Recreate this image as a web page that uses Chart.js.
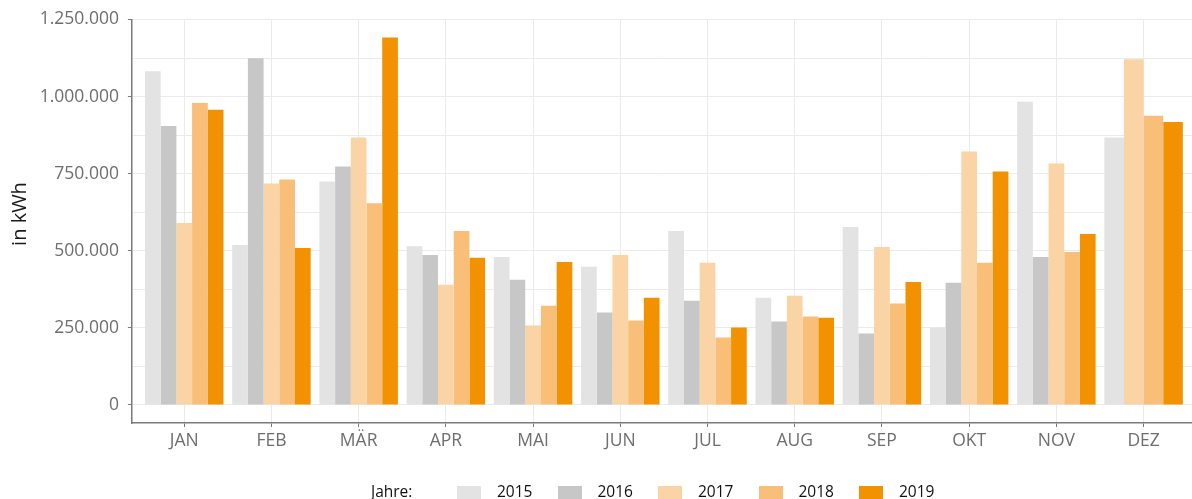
<!DOCTYPE html>
<html>
<head>
<meta charset="utf-8">
<script src="https://cdn.jsdelivr.net/npm/chart.js@4/dist/chart.umd.min.js"></script>
<style>
  html, body { margin: 0; padding: 0; background: #fff; overflow: hidden; }
  #wrap { position: relative; width: 1192px; height: 499px; }
  canvas { position: absolute; left: 0; top: 0; }
  #ytitle { position: absolute; left: 18px; top: 214px; transform: translate(-50%, -50%) rotate(-90deg);
            font-family: "Open Sans", sans-serif; font-size: 20px; color: #1a1a1a; white-space: nowrap; }
  #legend { position: absolute; left: 0; top: 0; width: 1192px; height: 499px; pointer-events: none;
            font-family: "Open Sans", sans-serif; font-size: 15.5px; font-weight: 500; color: #111; }
  #legend span { position: absolute; white-space: nowrap; line-height: 1; }
  #legend i { position: absolute; width: 24px; height: 24px; }
</style>
</head>
<body>
<div id="wrap">
  <canvas id="c" width="1192" height="499"></canvas>
  <div id="ytitle">in kWh</div>
  <div id="legend"></div>
</div>
<script>
const months = ['JAN','FEB','MÄR','APR','MAI','JUN','JUL','AUG','SEP','OKT','NOV','DEZ'];
const years = ['2015','2016','2017','2018','2019'];
const v2015 = [1082000, 519000, 725000, 515000, 480000, 448000, 564000, 348000, 577000, 251000, 983000, 867000];
const v2016 = [905000, 1124000, 773000, 486000, 406000, 300000, 338000, 271000, 232000, 396000, 480000, null];
const v2017 = [590000, 718000, 867000, 390000, 258000, 486000, 461000, 354000, 512000, 822000, 783000, 1121000];
const v2018 = [979000, 731000, 654000, 564000, 322000, 274000, 219000, 287000, 329000, 461000, 496000, 938000];
const v2019 = [957000, 509000, 1192000, 477000, 464000, 348000, 251000, 283000, 399000, 757000, 554000, 918000];
const yTickValues = [0,125000,250000,375000,500000,625000,750000,875000,1000000,1125000,1250000];
const yMajorLabels = {0:'0', 250000:'250.000', 500000:'500.000', 750000:'750.000', 1000000:'1.000.000', 1250000:'1.250.000'};
const colors = ['#e3e3e3','#c6c7c6','#fad4a5','#f9be78','#f39200'];

const series = [v2015, v2016, v2017, v2018, v2019];
const datasets = series.map((vals, k) => ({
  label: years[k],
  data: vals.map((v, i) => ({x: i, y: v})),
  backgroundColor: colors[k],
  borderWidth: 0,
  barPercentage: 1.0,
  categoryPercentage: 0.9,
  skipNull: true
}));

const axisColor = '#7a7a7a';
const gridColor = '#ebebeb';
const tickFont = {family: 'Open Sans', size: 17.5};

new Chart(document.getElementById('c'), {
  type: 'bar',
  data: {datasets},
  options: {
    responsive: false,
    animation: false,
    layout: {padding: {top: 17, right: 0, bottom: 0, left: 0}},
    plugins: {legend: {display: false}, tooltip: {enabled: false}},
    scales: {
      x: {
        type: 'linear',
        min: -0.6,
        max: 11.555,
        offset: false,
        afterBuildTicks: (s) => { s.ticks = months.map((m, i) => ({value: i})); },
        afterFit: (s) => { s.height = 76; },
        ticks: {
          callback: (v) => months[v] ?? '',
          color: '#6e6e6e', font: tickFont, padding: 4, maxRotation: 0, autoSkip: false
        },
        grid: {offset: false, color: gridColor, lineWidth: 1, tickLength: 4, tickColor: axisColor, drawTicks: true},
        border: {display: true, color: axisColor, width: 1.5}
      },
      y: {
        type: 'linear',
        min: -58500,
        max: 1250000,
        afterBuildTicks: (s) => { s.ticks = yTickValues.map(v => ({value: v})); },
        afterFit: (s) => { s.width = 131.9; },
        ticks: {
          callback: (v) => yMajorLabels[v] ?? '',
          color: '#6e6e6e', font: tickFont, padding: 9, autoSkip: false
        },
        grid: {
          color: gridColor, lineWidth: 1, tickLength: 4, drawTicks: true,
          tickColor: (ctx) => (ctx.tick && yMajorLabels[ctx.tick.value] !== undefined) ? axisColor : 'rgba(0,0,0,0)'
        },
        border: {display: true, color: axisColor, width: 1.5}
      }
    }
  }
});

// legend
const leg = document.getElementById('legend');
const title = document.createElement('span');
title.textContent = 'Jahre:';
title.style.left = '371px'; title.style.top = '484px';
leg.appendChild(title);
years.forEach((y, k) => {
  const box = document.createElement('i');
  box.style.left = (457 + k * 100.5) + 'px';
  box.style.top = '486px';
  box.style.background = colors[k];
  leg.appendChild(box);
  const t = document.createElement('span');
  t.textContent = y;
  t.style.left = (497 + k * 100.5) + 'px';
  t.style.top = '484px';
  leg.appendChild(t);
});
</script>
</body>
</html>
